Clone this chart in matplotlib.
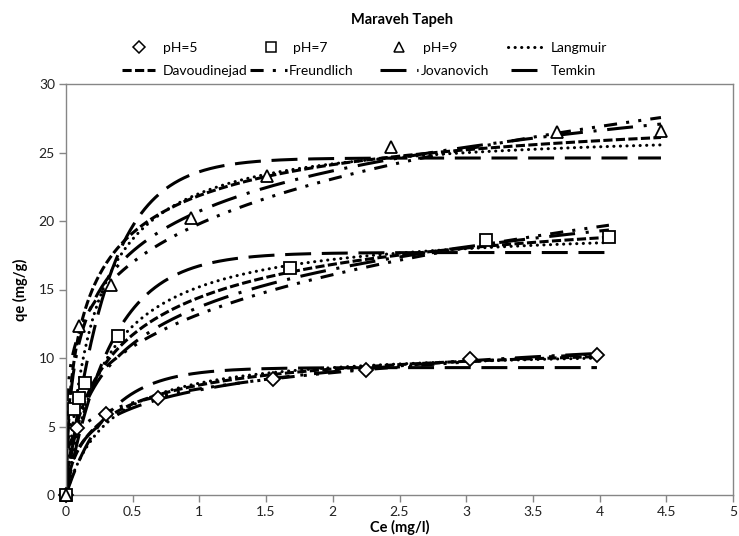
import numpy as np
import matplotlib
matplotlib.use("Agg")
import matplotlib.pyplot as plt
from matplotlib.lines import Line2D

plt.rcParams['font.family'] = ['Lato', 'DejaVu Sans']

# Measured equilibrium data (Ce in mg/l, qe in mg/g)
ce_ph5 = [0, 0.08, 0.30, 0.69, 1.55, 2.25, 3.03, 3.98]
qe_ph5 = [0, 4.9, 5.9, 7.1, 8.5, 9.1, 9.9, 10.2]
ce_ph7 = [0, 0.06, 0.10, 0.14, 0.39, 1.68, 3.15, 4.07]
qe_ph7 = [0, 6.3, 7.1, 8.2, 11.6, 16.6, 18.6, 18.8]
ce_ph9 = [0, 0.10, 0.34, 0.94, 1.51, 2.44, 3.68, 4.46]
qe_ph9 = [0, 12.3, 15.3, 20.2, 23.3, 25.4, 26.5, 26.6]

# Fitted curve parameters, ordered pH 5, 7, 9
langmuir_qm = [10.8, 19.8, 26.8]
langmuir_k = [3.1, 3.3, 4.6]
davoudinejad_qm = [12.0, 23.0, 30.0]
davoudinejad_k = [2.73, 2.1, 5.05]
davoudinejad_n = [0.70, 0.70, 0.61]
freundlich_kf = [7.75, 13.2, 19.8]
freundlich_inv_n = [0.205, 0.285, 0.221]
jovanovich_b = [1.95, 4.08, 4.27]
jovanovich_a = [50.0, 27.9, 127.0]
temkin_qm = [9.3, 17.7, 24.6]
temkin_k = [3.2, 2.9, 3.2]

x_ticks = [0, 0.5, 1, 1.5, 2, 2.5, 3, 3.5, 4, 4.5, 5]
x_tick_labels = ['0', '0.5', '1', '1.5', '2', '2.5', '3', '3.5', '4', '4.5', '5']
y_ticks = [0, 5, 10, 15, 20, 25, 30]


def langmuir(c, qm, k):
    return qm * k * c / (1 + k * c)


def sips_form(c, qm, k, n):
    t = (k * c) ** n
    return qm * t / (1 + t)


def freundlich(c, kf, inv_n):
    return kf * c ** inv_n


def log_form(c, b, a):
    return b * np.log(1 + a * c)


def exp_form(c, qm, k):
    return qm * (1 - np.exp(-k * c))


W, H = 739, 536
fig = plt.figure(figsize=(W / 100, H / 100), dpi=100)
ax = fig.add_axes([66 / W, 1 - 495 / H, (733 - 66) / W, (495 - 84) / H])

LW = 2.2
styles = {
    'Langmuir': dict(ls=(0, (0.05, 2.1)), dash_capstyle='round'),
    'Davoudinejad': dict(ls=(0, (3.0, 1.1))),
    'Freundlich': dict(ls=(0, (4.3, 3.0, 1.0, 3.0, 1.0, 3.0))),
    'Jovanovich': dict(ls=(0, (8.5, 3.5, 1.0, 3.5))),
    'Temkin': dict(ls=(0, (8.5, 3.5))),
}

series = [(ce_ph5, qe_ph5, 'D', 7.0), (ce_ph7, qe_ph7, 's', 8.0), (ce_ph9, qe_ph9, '^', 9.0)]

for i, (ce, qe, mk, ms) in enumerate(series):
    c = np.linspace(0, max(ce), 500)
    curves = {
        'Langmuir': langmuir(c, langmuir_qm[i], langmuir_k[i]),
        'Davoudinejad': sips_form(c, davoudinejad_qm[i], davoudinejad_k[i], davoudinejad_n[i]),
        'Freundlich': freundlich(c, freundlich_kf[i], freundlich_inv_n[i]),
        'Jovanovich': log_form(c, jovanovich_b[i], jovanovich_a[i]),
        'Temkin': exp_form(c, temkin_qm[i], temkin_k[i]),
    }
    for name, q in curves.items():
        ax.plot(c, q, color='black', lw=LW, zorder=2, **styles[name])
    ax.plot(ce, qe, ls='none', marker=mk, ms=ms, mfc='white', mec='black',
            mew=1.3, zorder=4, clip_on=False)

ax.set_xlim(0, 5)
ax.set_ylim(0, 30)
ax.set_xticks(x_ticks)
ax.set_xticklabels(x_tick_labels)
ax.set_yticks(y_ticks)
spine_c = '#868686'
for s in ax.spines.values():
    s.set_color(spine_c)
    s.set_linewidth(1.0)
ax.tick_params(direction='out', length=5, width=1.0, color=spine_c,
               labelsize=10, labelcolor='#222222', pad=3)
ax.set_xlabel('Ce (mg/l)', fontsize=10.5, fontweight='bold', labelpad=1)
ax.set_ylabel('qe (mg/g)', fontsize=10.5, fontweight='bold', labelpad=8)

fig.text(402 / W, 1 - 20 / H, 'Maraveh Tapeh', ha='center', va='center',
         fontsize=10.5, fontweight='bold')

# Legend: each entry placed on its own, two rows of four
em = 10 * 100 / 72.0
entries = [
    (Line2D([], [], ls='none', marker='D', ms=6.0, mfc='white', mec='black', mew=1.1),
     'pH=5', 133, 48, 12, 18),
    (Line2D([], [], ls='none', marker='s', ms=7.0, mfc='white', mec='black', mew=1.1),
     'pH=7', 265, 48, 12, 16),
    (Line2D([], [], ls='none', marker='^', ms=7.5, mfc='white', mec='black', mew=1.1),
     'pH=9', 393, 48, 12, 18),
    (Line2D([], [], color='black', lw=LW, **styles['Langmuir']),
     'Langmuir', 508, 48, 37, 6),
    (Line2D([], [], color='black', lw=LW, **styles['Davoudinejad']),
     'Davoudinejad', 122, 71, 33, 8),
    (Line2D([], [], color='black', lw=LW, **styles['Freundlich']),
     'Freundlich', 250, 71, 37, 2),
    (Line2D([], [], color='black', lw=LW, **styles['Jovanovich']),
     'Jovanovich', 380, 71, 38, 3),
    (Line2D([], [], color='black', lw=LW, **styles['Temkin']),
     'Temkin', 511, 71, 29, 11),
]
for h, lab, x0, y0, hl, pad in entries:
    fig.legend(handles=[h], labels=[lab], loc='center left',
               bbox_to_anchor=(x0 / W, 1 - y0 / H), frameon=False,
               borderpad=0, borderaxespad=0, handlelength=hl / em,
               handletextpad=pad / em, fontsize=10, numpoints=1)

fig.savefig('out.png', dpi=100)
